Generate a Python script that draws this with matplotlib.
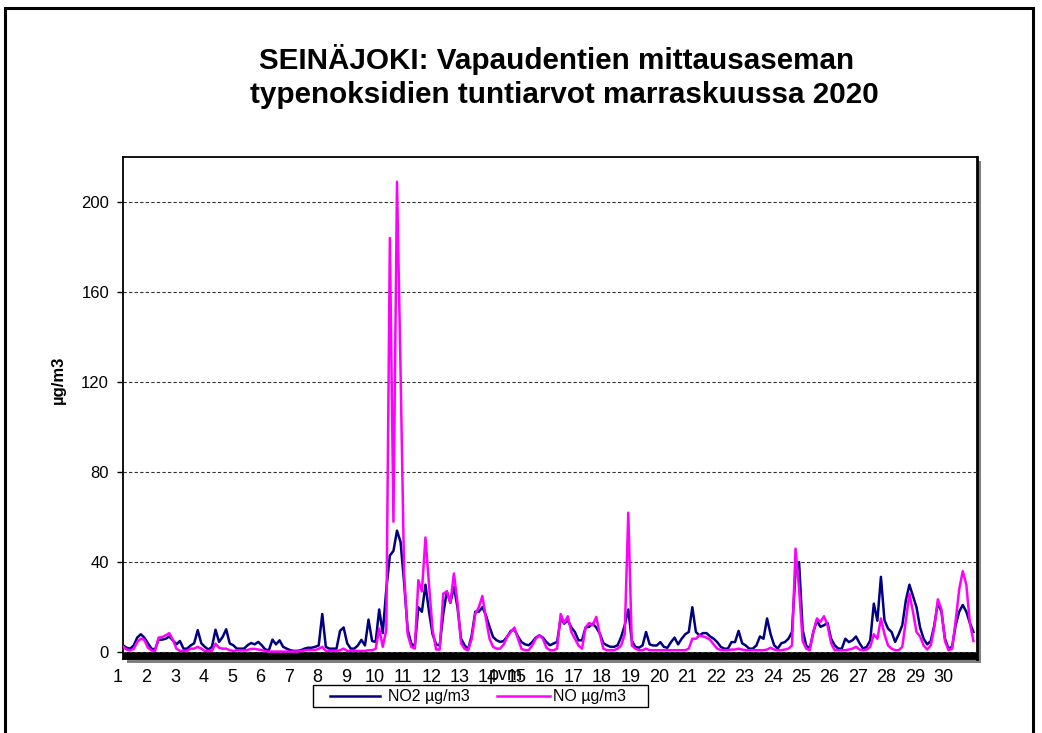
import numpy as np
import matplotlib
matplotlib.use("Agg")
import matplotlib.pyplot as plt
from matplotlib.patches import Rectangle
from matplotlib.lines import Line2D
import matplotlib.transforms as mtransforms

plt.rcParams['font.family'] = ['Liberation Sans', 'DejaVu Sans']

# ---------------- data (3-hourly readings, 8 per day, November 2020) ----------------
day_labels = [str(d) for d in range(1, 31)]
y_ticks = [0, 40, 80, 120, 160, 200]
step_hours = 3

no2 = [
    3.1, 2.0, 1.6, 3.0, 6.5, 8.0, 6.5, 4.0,
    1.6, 1.2, 5.6, 5.6, 6.0, 7.0, 5.3, 3.5,
    5.0, 1.6, 1.6, 3.0, 4.0, 9.8, 4.0, 2.4,
    1.2, 2.4, 10.0, 4.6, 6.8, 10.2, 3.9, 3.1,
    1.6, 1.6, 1.6, 3.1, 4.1, 3.5, 4.6, 3.1,
    1.2, 0.9, 5.6, 3.5, 5.3, 2.4, 1.6, 0.9,
    0.6, 0.6, 0.9, 1.6, 2.0, 2.0, 2.4, 3.0,
    17.0, 2.4, 1.6, 1.6, 1.6, 9.5, 11.0, 4.0,
    1.6, 1.6, 3.0, 5.5, 3.0, 14.5, 5.0, 4.6,
    19.0, 8.5, 28.0, 43.0, 45.0, 54.0, 49.0, 31.0,
    10.0, 4.0, 2.4, 20.0, 18.0, 30.0, 18.0, 8.0,
    3.5, 3.0, 17.0, 27.0, 22.0, 29.0, 20.0, 6.0,
    3.1, 1.3, 7.5, 18.0, 18.0, 20.0, 16.4, 11.3,
    6.8, 5.3, 4.6, 5.0, 7.0, 9.5, 10.0, 7.0,
    4.5, 3.5, 3.1, 4.5, 6.5, 7.5, 6.5, 4.5,
    3.1, 3.9, 4.6, 15.0, 12.7, 14.2, 11.0, 9.0,
    5.3, 5.3, 11.0, 11.3, 12.7, 11.0, 8.3, 4.0,
    3.1, 2.4, 2.4, 3.1, 6.8, 12.0, 19.0, 5.0,
    2.4, 2.0, 3.0, 9.0, 3.5, 3.0, 3.0, 4.5,
    2.4, 2.0, 4.5, 6.5, 3.5, 6.0, 8.0, 9.0,
    20.0, 9.0, 7.5, 8.5, 8.5, 7.0, 6.0, 4.5,
    2.4, 1.6, 1.6, 4.5, 4.5, 9.5, 4.0, 3.0,
    1.6, 1.6, 3.0, 7.0, 6.0, 15.0, 8.0, 3.1,
    1.6, 4.0, 4.5, 6.0, 9.0, 36.0, 40.0, 10.0,
    3.0, 1.6, 9.0, 14.0, 11.3, 12.0, 13.0, 6.0,
    3.1, 1.6, 1.6, 6.0, 4.5, 5.3, 7.0, 4.0,
    1.6, 2.4, 5.3, 21.6, 14.0, 33.5, 14.2, 10.5,
    9.0, 4.6, 8.0, 12.0, 23.0, 30.0, 25.0, 20.0,
    11.0, 6.0, 3.5, 5.0, 12.0, 22.0, 18.0, 6.0,
    1.6, 2.4, 12.0, 18.0, 21.0, 18.0, 13.0, 9.0,
]

no = [
    2.5, 1.2, 0.8, 1.5, 4.5, 6.0, 5.5, 2.0,
    0.8, 0.6, 6.5, 6.8, 7.5, 8.5, 5.6, 1.6,
    0.6, 0.6, 0.6, 1.6, 1.6, 2.4, 1.6, 0.6,
    0.6, 0.6, 3.8, 2.0, 1.6, 1.6, 0.9, 0.6,
    0.8, 0.8, 0.8, 1.0, 1.5, 1.5, 1.2, 1.0,
    0.5, 0.3, 0.3, 0.3, 0.3, 0.3, 0.3, 0.3,
    0.3, 0.3, 0.5, 0.8, 1.0, 1.0, 1.0, 1.5,
    2.4, 0.6, 0.6, 0.6, 0.6, 0.9, 1.6, 0.6,
    0.6, 0.6, 0.6, 0.6, 0.6, 0.9, 0.9, 1.5,
    10.5, 2.4, 10.0, 184.0, 58.0, 209.0, 125.0, 35.0,
    8.0, 2.4, 1.6, 32.0, 27.0, 51.0, 30.0, 10.0,
    1.2, 1.2, 26.0, 27.0, 22.0, 35.0, 22.0, 4.0,
    1.5, 0.9, 6.0, 17.0, 20.0, 25.0, 15.0, 6.0,
    2.4, 1.6, 1.6, 3.5, 7.0, 9.0, 11.0, 6.0,
    1.5, 0.9, 0.9, 3.0, 6.0, 7.5, 6.0, 2.0,
    0.9, 0.9, 1.6, 17.0, 13.0, 16.0, 9.0, 6.0,
    3.0, 1.6, 11.0, 13.0, 12.0, 15.7, 8.0, 1.6,
    0.9, 0.9, 0.9, 1.6, 3.0, 8.0, 62.0, 3.0,
    1.6, 0.9, 0.9, 1.6, 0.9, 0.9, 0.9, 0.9,
    0.9, 0.9, 0.9, 0.9, 0.9, 0.9, 0.9, 1.6,
    6.0, 6.0, 7.5, 7.0, 6.5, 5.5, 3.5, 1.6,
    1.0, 0.9, 0.9, 1.2, 1.2, 1.6, 1.2, 0.9,
    0.9, 0.9, 0.9, 0.9, 0.9, 1.2, 2.0, 1.2,
    0.9, 0.9, 1.2, 1.6, 3.0, 46.0, 28.0, 5.0,
    1.6, 0.9, 9.0, 15.0, 13.5, 16.0, 12.0, 4.0,
    0.9, 0.9, 0.9, 0.9, 1.2, 1.6, 2.4, 1.2,
    0.9, 1.2, 2.4, 8.0, 6.0, 15.0, 8.0, 3.0,
    1.6, 0.9, 0.9, 2.4, 14.0, 26.0, 18.0, 9.0,
    7.0, 3.0, 1.2, 3.0, 11.0, 23.5, 19.0, 5.0,
    0.9, 1.5, 14.0, 28.0, 36.0, 30.0, 13.0, 5.0,
]

series_names = ['NO2 µg/m3', 'NO µg/m3']
series_colors = ['#000080', '#ff00ff']
title_lines = ['SEINÄJOKI: Vapaudentien mittausaseman',
               'typenoksidien tuntiarvot marraskuussa 2020']

# ---------------- figure ----------------
W, H = 1042, 733
fig = plt.figure(figsize=(W / 100, H / 100), dpi=100)
fig.patch.set_facecolor('white')

def fx(px):
    return px / W

def fy(py):
    return 1 - py / H

# outer frame of the whole chart
fig.add_artist(Rectangle((fx(5), -0.05), 1028 / W, fy(8) + 0.05,
                         transform=fig.transFigure, fill=False,
                         lw=2.2, ec='black'))

ax_l, ax_r, ax_t, ax_b = 123, 977, 157, 659
# shadow of plot area
fig.add_artist(Rectangle((fx(ax_l + 4), fy(ax_b + 4)),
                         (ax_r - ax_l) / W, (ax_b - ax_t) / H,
                         transform=fig.transFigure, fc='#808080', ec='none',
                         zorder=0))
ax = fig.add_axes([fx(ax_l), fy(ax_b), (ax_r - ax_l) / W, (ax_b - ax_t) / H])
ax.set_facecolor('white')

t = np.arange(len(no2)) * step_hours
ax.axhspan(-3, 0, color='black', zorder=1, lw=0)
ax.plot(t, no2, color=series_colors[0], lw=1.8, zorder=3,
        solid_joinstyle='round')
ax.plot(t, no, color=series_colors[1], lw=1.8, zorder=4,
        solid_joinstyle='round')

ax.set_xlim(0, 720)
ax.set_ylim(-3, 220)

ax.set_yticks(y_ticks)
ax.set_yticklabels([str(v) for v in y_ticks], fontsize=12)
ax.yaxis.grid(True, ls=(0, (3, 2)), color='#333333', lw=0.8, zorder=2)
ax.set_axisbelow(False)
ax.tick_params(axis='y', direction='out', length=4, width=1, pad=6)

ax.set_xticks([i * 24 for i in range(len(day_labels))])
ax.set_xticklabels(day_labels, fontsize=13)
ax.tick_params(axis='x', length=0, pad=7)
offset = mtransforms.ScaledTranslation(-5 / 100, 0, fig.dpi_scale_trans)
for lbl in ax.get_xticklabels():
    lbl.set_transform(lbl.get_transform() + offset)

for s in ['left', 'top', 'bottom']:
    ax.spines[s].set_linewidth(1.3)
ax.spines['right'].set_linewidth(2.0)

ax.set_ylabel('µg/m3', fontsize=12, fontweight='bold')
ax.yaxis.set_label_coords((66 - ax_l) / (ax_r - ax_l), 0.556)

fig.text(fx(506), fy(676), 'pvm', ha='center', va='center', fontsize=13)

# title
fig.text(fx(557), fy(69), title_lines[0], ha='center', va='baseline',
         fontsize=21.3, fontweight='bold')
fig.text(fx(564), fy(103), title_lines[1], ha='center', va='baseline',
         fontsize=21.3, fontweight='bold')

# legend (drawn as a framed box below the plot)
fig.add_artist(Rectangle((fx(313), fy(707)), (648 - 313) / W, 22 / H,
                         transform=fig.transFigure, fc='white', ec='black',
                         lw=1.0))
leg_items = [(330, 380, 388), (497, 550, 553)]
for (x0, x1, xt), name, col in zip(leg_items, series_names, series_colors):
    fig.add_artist(Line2D([fx(x0), fx(x1)], [fy(696), fy(696)],
                          transform=fig.transFigure, color=col, lw=1.8))
    fig.text(fx(xt), fy(696), name, ha='left', va='center', fontsize=11.5)

fig.savefig('out.png', dpi=100)
